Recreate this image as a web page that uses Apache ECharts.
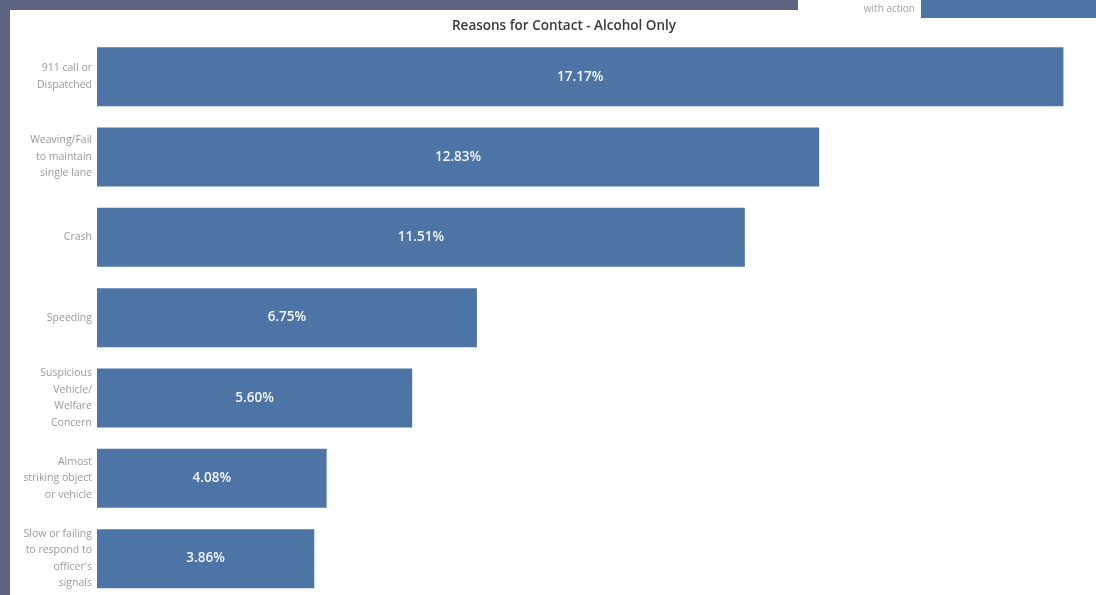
<!DOCTYPE html>
<html><head><meta charset="utf-8">
<script src="https://cdn.jsdelivr.net/npm/echarts@6/dist/echarts.min.js"></script>
<style>html,body{margin:0;padding:0;background:#fff;overflow:hidden}#c{width:1096px;height:600px}</style>
</head><body><div id="c"></div>
<script>
const categories = [
  "911 call or\nDispatched",
  "Weaving/Fail\nto maintain\nsingle lane",
  "Crash",
  "Speeding",
  "Suspicious\nVehicle/\nWelfare\nConcern",
  "Almost\nstriking object\nor vehicle",
  "Slow or failing\nto respond to\nofficer's\nsignals"
];
const values = [17.17, 12.83, 11.51, 6.75, 5.60, 4.08, 3.86];
const sideCategories = ["with action"];
const sideValues = [1];

const chart = echarts.init(document.getElementById('c'));
chart.setOption({
  animation: false,
  backgroundColor: '#ffffff',
  title: {
    text: 'Reasons for Contact - Alcohol Only',
    left: 559, top: 14, textAlign: 'center',
    textStyle: {fontFamily: 'Open Sans', fontSize: 13.5, fontWeight: 600, color: '#3a3a3a'}
  },
  graphic: [
    {type: 'rect', shape: {x: 0, y: 0, width: 10, height: 600}, style: {fill: '#5d6382'}},
    {type: 'rect', shape: {x: 0, y: 0, width: 798, height: 10}, style: {fill: '#5d6382'}}
  ],
  grid: [
    {left: 97, right: 14, top: 36.5, height: 562.3},
    {left: 921, right: 0, top: -4, height: 22}
  ],
  xAxis: [
    {gridIndex: 0, type: 'value', min: 0, max: 17.5, show: false},
    {gridIndex: 1, type: 'value', min: 0, max: 1, show: false}
  ],
  yAxis: [
    {gridIndex: 0, type: 'category', data: categories, inverse: true,
     axisLine: {show: false}, axisTick: {show: false},
     axisLabel: {fontFamily: 'Open Sans', fontSize: 10.5, color: '#9a9a9a', lineHeight: 16.5, margin: 5, align: 'right'}},
    {gridIndex: 1, type: 'category', data: sideCategories,
     axisLine: {show: false}, axisTick: {show: false},
     axisLabel: {fontFamily: 'Open Sans', fontSize: 10, color: '#a0a0a0', margin: 6}}
  ],
  series: [
    {type: 'bar', xAxisIndex: 0, yAxisIndex: 0, data: values, barWidth: 59,
     itemStyle: {color: '#4c75a6'},
     label: {show: true, position: 'inside', formatter: p => p.value.toFixed(2) + '%',
       color: '#f4f6fa', fontFamily: 'Open Sans', fontSize: 13.5, fontWeight: 600}},
    {type: 'bar', xAxisIndex: 1, yAxisIndex: 1, data: sideValues, barWidth: 22,
     itemStyle: {color: '#4c75a6'}, silent: true}
  ]
});
</script></body></html>
